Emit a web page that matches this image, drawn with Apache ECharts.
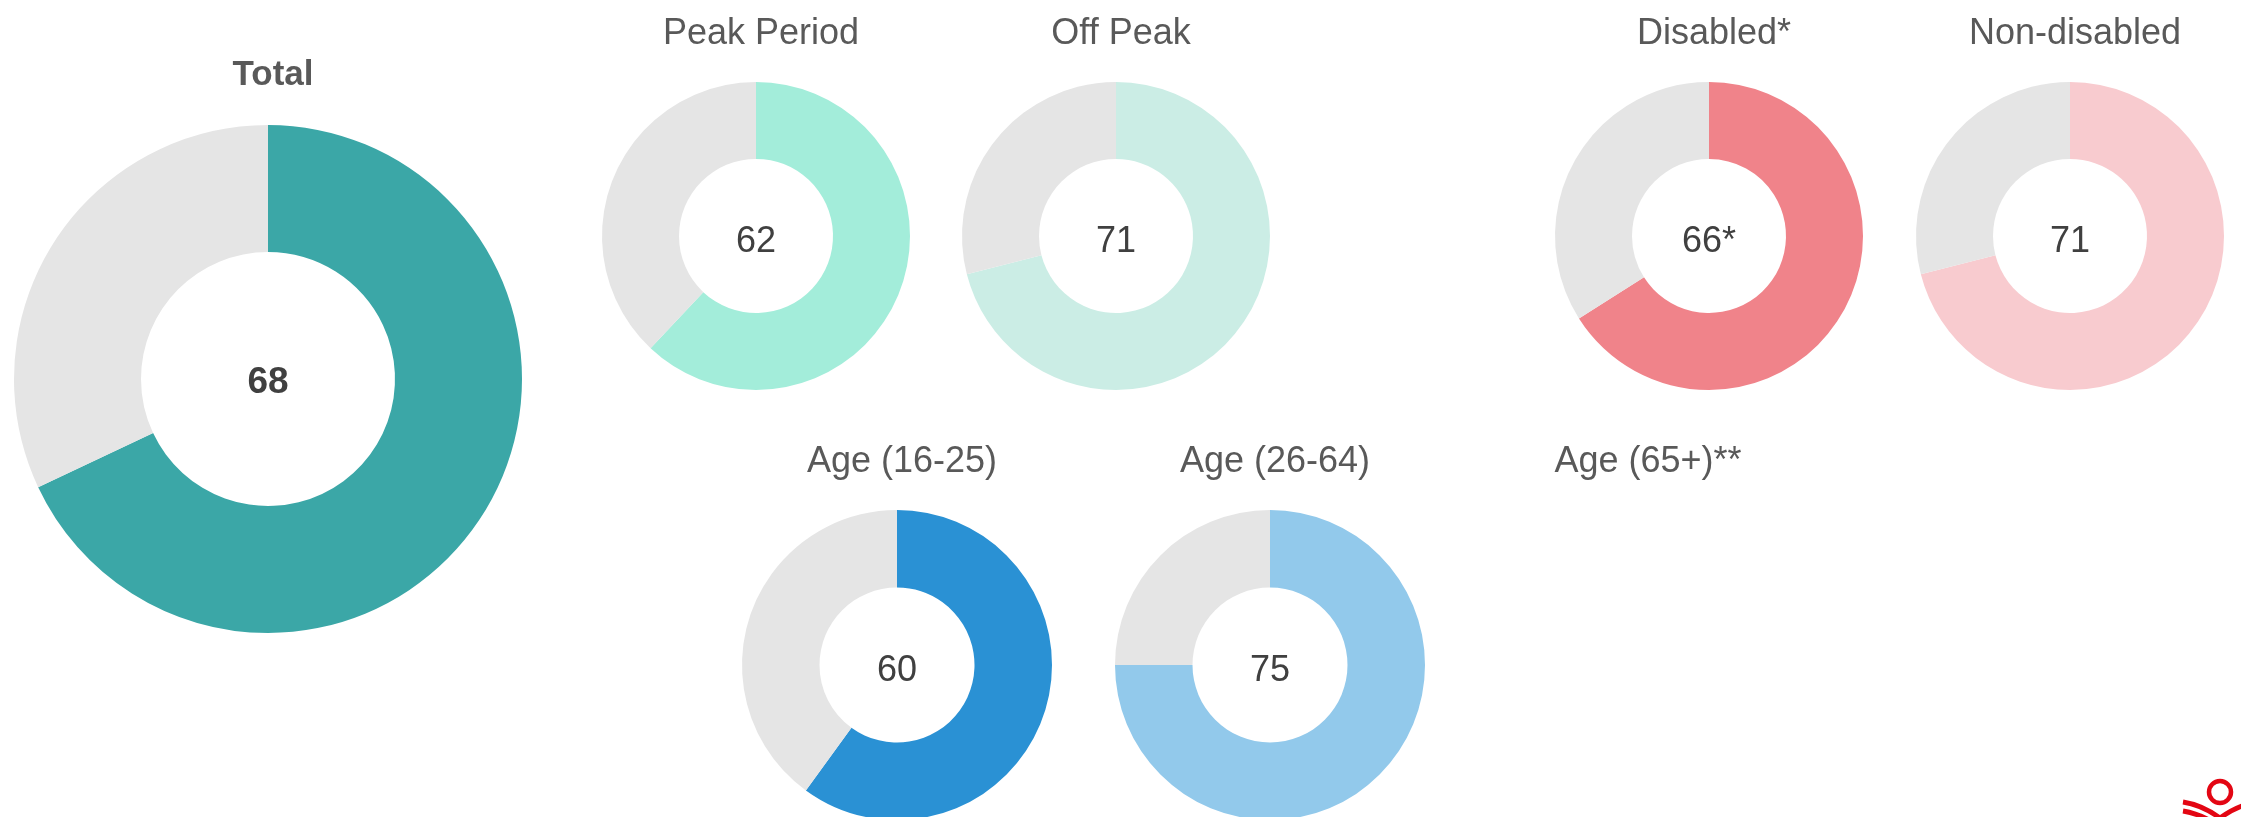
<!DOCTYPE html>
<html>
<head>
<meta charset="utf-8">
<script src="https://cdn.jsdelivr.net/npm/echarts@6/dist/echarts.min.js"></script>
<style>
html, body { margin: 0; padding: 0; background: #fff; }
#chart { width: 2241px; height: 817px; }
</style>
</head>
<body>
<div id="chart"></div>
<script>
// data
var groupNames = ['Total', 'Peak Period', 'Off Peak', 'Disabled*', 'Non-disabled', 'Age (16-25)', 'Age (26-64)', 'Age (65+)**'];
var groupValues = [68, 62, 71, 66, 71, 60, 75, null];
var centerLabels = ['68', '62', '71', '66*', '71', '60', '75', ''];
var groupColors = ['#3ba7a7', '#a3edda', '#cbede5', '#f0838a', '#f8cbcf', '#2a91d4', '#92c9eb', '#cccccc'];
var restColor = '#e5e5e5';

// layout : [cx, cy, outer radius, title y]
var layout = [
	[268, 379, 254, 70],
	[756, 236, 154, 29],
	[1116, 236, 154, 29],
	[1709, 236, 154, 29],
	[2070, 236, 154, 29],
	[897, 665, 155, 457],
	[1270, 665, 155, 457],
	[1643, 665, 155, 457]
];
var fontName = "'Liberation Sans', Arial, Helvetica, sans-serif";

var myChart = echarts.init(document.getElementById('chart'));

var titles = [];
var series = [];
for (var i = 0; i < groupNames.length; i++) {
	var big = i == 0;
	titles.push({
		text: groupNames[i],
		left: layout[i][0],
		top: layout[i][3],
		textAlign: 'center',
		textVerticalAlign: 'middle',
		textStyle: {
			fontFamily: fontName,
			fontSize: big ? 35 : 36,
			fontWeight: big ? 'bold' : 'normal',
			color: '#595959'
		}
	});
	if (groupValues[i] == null) continue;
	series.push({
		name: groupNames[i],
		type: 'pie',
		center: [layout[i][0], layout[i][1]],
		radius: [layout[i][2] / 2, layout[i][2]],
		startAngle: 90,
		clockwise: true,
		silent: true,
		avoidLabelOverlap: false,
		labelLine: { show: false },
		data: [{
			value: groupValues[i],
			name: centerLabels[i],
			itemStyle: { color: groupColors[i] },
			label: {
				show: true,
				position: 'center',
				formatter: centerLabels[i],
				fontFamily: fontName,
				fontSize: big ? 37 : 36,
				fontWeight: big ? 'bold' : 'normal',
				color: '#404040',
				offset: [0, big ? 4 : 6]
			}
		}, {
			value: 100 - groupValues[i],
			name: 'rest',
			itemStyle: { color: restColor },
			label: { show: false }
		}]
	});
}

// logo bottom right
var logoRed = '#e30613';
var graphics = [{
	type: 'circle',
	shape: { cx: 2220, cy: 792, r: 11 },
	style: { fill: 'none', stroke: logoRed, lineWidth: 4.5 }
}, {
	type: 'bezierCurve',
	shape: { x1: 2183, y1: 802, cpx1: 2202, cpy1: 805, x2: 2220, y2: 818 },
	style: { fill: 'none', stroke: logoRed, lineWidth: 5 }
}, {
	type: 'bezierCurve',
	shape: { x1: 2257, y1: 802, cpx1: 2238, cpy1: 805, x2: 2220, y2: 818 },
	style: { fill: 'none', stroke: logoRed, lineWidth: 5 }
}, {
	type: 'bezierCurve',
	shape: { x1: 2183, y1: 811, cpx1: 2202, cpy1: 814, x2: 2220, y2: 827 },
	style: { fill: 'none', stroke: logoRed, lineWidth: 5 }
}];

myChart.setOption({
	backgroundColor: '#ffffff',
	animation: false,
	title: titles,
	series: series,
	graphic: graphics
});
</script>
</body>
</html>
